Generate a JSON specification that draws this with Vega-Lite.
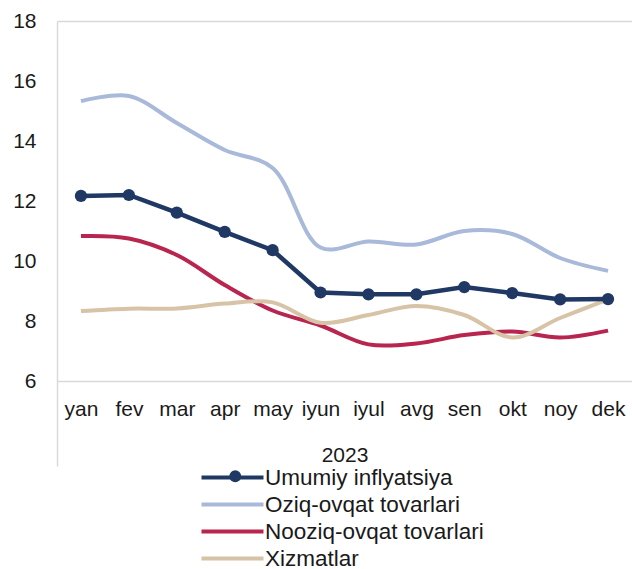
{
  "$schema": "https://vega.github.io/schema/vega-lite/v6.json",
  "width": 575,
  "height": 360,
  "autosize": {"type": "none"},
  "padding": {"left": 57, "top": 21, "right": 0, "bottom": 188},
  "background": "white",
  "config": {"view": {"stroke": null}, "font": "Liberation Sans"},
  "data": {
    "values": [
      {"month": "yan", "series": "Umumiy inflyatsiya", "value": 12.17},
      {"month": "fev", "series": "Umumiy inflyatsiya", "value": 12.2},
      {"month": "mar", "series": "Umumiy inflyatsiya", "value": 11.61},
      {"month": "apr", "series": "Umumiy inflyatsiya", "value": 10.97},
      {"month": "may", "series": "Umumiy inflyatsiya", "value": 10.36},
      {"month": "iyun", "series": "Umumiy inflyatsiya", "value": 8.95},
      {"month": "iyul", "series": "Umumiy inflyatsiya", "value": 8.89},
      {"month": "avg", "series": "Umumiy inflyatsiya", "value": 8.89},
      {"month": "sen", "series": "Umumiy inflyatsiya", "value": 9.13},
      {"month": "okt", "series": "Umumiy inflyatsiya", "value": 8.93},
      {"month": "noy", "series": "Umumiy inflyatsiya", "value": 8.72},
      {"month": "dek", "series": "Umumiy inflyatsiya", "value": 8.73},
      {"month": "yan", "series": "Oziq-ovqat tovarlari", "value": 15.33},
      {"month": "fev", "series": "Oziq-ovqat tovarlari", "value": 15.5},
      {"month": "mar", "series": "Oziq-ovqat tovarlari", "value": 14.6},
      {"month": "apr", "series": "Oziq-ovqat tovarlari", "value": 13.7},
      {"month": "may", "series": "Oziq-ovqat tovarlari", "value": 13.1},
      {"month": "iyun", "series": "Oziq-ovqat tovarlari", "value": 10.45},
      {"month": "iyul", "series": "Oziq-ovqat tovarlari", "value": 10.65},
      {"month": "avg", "series": "Oziq-ovqat tovarlari", "value": 10.55},
      {"month": "sen", "series": "Oziq-ovqat tovarlari", "value": 11.0},
      {"month": "okt", "series": "Oziq-ovqat tovarlari", "value": 10.9},
      {"month": "noy", "series": "Oziq-ovqat tovarlari", "value": 10.1},
      {"month": "dek", "series": "Oziq-ovqat tovarlari", "value": 9.67},
      {"month": "yan", "series": "Nooziq-ovqat tovarlari", "value": 10.83},
      {"month": "fev", "series": "Nooziq-ovqat tovarlari", "value": 10.75},
      {"month": "mar", "series": "Nooziq-ovqat tovarlari", "value": 10.2},
      {"month": "apr", "series": "Nooziq-ovqat tovarlari", "value": 9.2},
      {"month": "may", "series": "Nooziq-ovqat tovarlari", "value": 8.35},
      {"month": "iyun", "series": "Nooziq-ovqat tovarlari", "value": 7.85},
      {"month": "iyul", "series": "Nooziq-ovqat tovarlari", "value": 7.22},
      {"month": "avg", "series": "Nooziq-ovqat tovarlari", "value": 7.25},
      {"month": "sen", "series": "Nooziq-ovqat tovarlari", "value": 7.53},
      {"month": "okt", "series": "Nooziq-ovqat tovarlari", "value": 7.65},
      {"month": "noy", "series": "Nooziq-ovqat tovarlari", "value": 7.45},
      {"month": "dek", "series": "Nooziq-ovqat tovarlari", "value": 7.68},
      {"month": "yan", "series": "Xizmatlar", "value": 8.33},
      {"month": "fev", "series": "Xizmatlar", "value": 8.41},
      {"month": "mar", "series": "Xizmatlar", "value": 8.42},
      {"month": "apr", "series": "Xizmatlar", "value": 8.58},
      {"month": "may", "series": "Xizmatlar", "value": 8.62},
      {"month": "iyun", "series": "Xizmatlar", "value": 7.94},
      {"month": "iyul", "series": "Xizmatlar", "value": 8.2},
      {"month": "avg", "series": "Xizmatlar", "value": 8.5},
      {"month": "sen", "series": "Xizmatlar", "value": 8.2},
      {"month": "okt", "series": "Xizmatlar", "value": 7.45},
      {"month": "noy", "series": "Xizmatlar", "value": 8.1},
      {"month": "dek", "series": "Xizmatlar", "value": 8.72}
    ]
  },
  "encoding": {
    "x": {
      "field": "month",
      "type": "ordinal",
      "sort": ["yan", "fev", "mar", "apr", "may", "iyun", "iyul", "avg", "sen", "okt", "noy", "dek"],
      "bandPosition": 0.5,
      "scale": {"type": "band", "paddingInner": 0, "paddingOuter": 0},
      "axis": {
        "title": "2023",
        "titleFontSize": 21,
        "titleFontWeight": "normal",
        "titleColor": "#1a1a1a",
        "titleBaseline": "alphabetic",
        "titleY": 80,
        "labelFontSize": 21,
        "labelColor": "#1a1a1a",
        "labelAngle": 0,
        "labelPadding": -68,
        "labelOffset": 23.96,
        "domain": true,
        "domainColor": "#d9d9d9",
        "domainWidth": 1.5,
        "ticks": true,
        "tickSize": 85,
        "tickWidth": 1.5,
        "tickOffset": -23.96,
        "tickColor": {"condition": {"test": "datum.value === 'yan'", "value": "#d9d9d9"}, "value": "transparent"},
        "grid": false
      }
    },
    "y": {
      "field": "value",
      "type": "quantitative",
      "scale": {"domain": [6, 18], "nice": false, "zero": false},
      "axis": {
        "title": null,
        "values": [6, 8, 10, 12, 14, 16, 18],
        "labelFontSize": 21,
        "labelColor": "#1a1a1a",
        "labelPadding": 21,
        "ticks": false,
        "domain": true,
        "domainColor": "#d9d9d9",
        "domainWidth": 1.5,
        "grid": true,
        "gridWidth": 1.5,
        "gridColor": {"condition": {"test": "datum.value === 18", "value": "#d9d9d9"}, "value": "transparent"}
      }
    }
  },
  "layer": [
    {
      "transform": [{"filter": "datum.series !== 'Umumiy inflyatsiya'"}],
      "mark": {"type": "line", "interpolate": "catmull-rom", "strokeWidth": 4},
      "encoding": {
        "color": {
          "field": "series",
          "type": "nominal",
          "scale": {
            "domain": ["Umumiy inflyatsiya", "Oziq-ovqat tovarlari", "Nooziq-ovqat tovarlari", "Xizmatlar"],
            "range": ["#203864", "#a9b9d9", "#b8254f", "#d7c3a5"]
          },
          "legend": {
            "title": null,
            "orient": "none",
            "legendX": 161,
            "legendY": 442,
            "symbolType": "M-2.5,0H2.5",
            "symbolSize": 615,
            "symbolStrokeWidth": 4,
            "labelFontSize": 22.5,
            "labelColor": "#1a1a1a",
            "labelOffset": 18,
            "labelLimit": 400,
            "rowPadding": 1
          }
        }
      }
    },
    {
      "transform": [{"filter": "datum.series === 'Umumiy inflyatsiya'"}],
      "mark": {"type": "line", "strokeWidth": 4.5},
      "encoding": {
        "color": {"field": "series", "type": "nominal"}
      }
    },
    {
      "transform": [{"filter": "datum.series === 'Umumiy inflyatsiya'"}],
      "mark": {"type": "point", "filled": true, "size": 150, "opacity": 1, "color": "#203864"},
      "encoding": {
        "shape": {
          "field": "series",
          "type": "nominal",
          "scale": {"domain": ["Umumiy inflyatsiya"], "range": ["circle"]},
          "legend": {
            "title": null,
            "orient": "none",
            "legendX": 167,
            "legendY": 444,
            "symbolSize": 140,
            "symbolFillColor": "#203864",
            "symbolStrokeColor": "#203864",
            "labelExpr": "''",
            "labelFontSize": 22.5
          }
        }
      }
    }
  ]
}
